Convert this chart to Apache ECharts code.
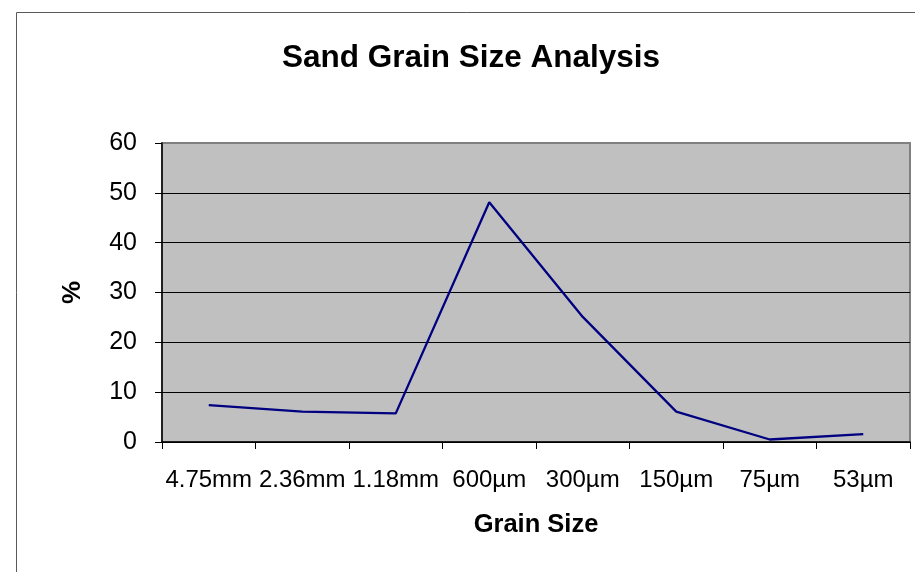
<!DOCTYPE html>
<html>
<head>
<meta charset="utf-8">
<script src="https://cdn.jsdelivr.net/npm/echarts@6/dist/echarts.min.js"></script>
<style>
  html, body { margin: 0; padding: 0; background: #fff; }
  #chart { width: 915px; height: 572px; }
</style>
</head>
<body>
<div id="chart"></div>
<script>
var grainSizes = ['4.75mm', '2.36mm', '1.18mm', '600µm', '300µm', '150µm', '75µm', '53µm'];
var percentValues = [7.4, 6.1, 5.75, 48.1, 25.1, 6.1, 0.5, 1.6];
var yTicks = [0, 10, 20, 30, 40, 50, 60];

var myChart = echarts.init(document.getElementById('chart'));
var font = 'Liberation Sans, Arial, sans-serif';

var option = {
    backgroundColor: '#fff',
    textStyle: { fontFamily: font },
    graphic: [{
        type: 'rect',
        shape: { x: 16.5, y: 12.5, width: 1000, height: 1000 },
        style: { fill: 'none', stroke: '#5a5a5a', lineWidth: 1 },
        z: -1
    }, {
        // chart title, centred over the plot like the original
        type: 'text',
        x: 471,
        y: 58,
        style: {
            text: 'Sand Grain Size Analysis',
            font: 'bold 31.5px ' + font,
            fill: '#000',
            align: 'center',
            verticalAlign: 'middle'
        }
    }],
    grid: {
        left: 162,
        right: 5,
        top: 143,
        bottom: 130,
        show: true,
        backgroundColor: '#c0c0c0',
        borderColor: '#808080',
        borderWidth: 2
    },
    xAxis: {
        type: 'category',
        data: grainSizes,
        boundaryGap: true,
        name: 'Grain Size',
        nameLocation: 'middle',
        nameGap: 70,
        nameTextStyle: { fontSize: 25.5, fontWeight: 'bold', color: '#000', fontFamily: font },
        axisLine: { lineStyle: { color: '#000', width: 1.5 } },
        axisTick: { show: true, alignWithLabel: false, length: 7, lineStyle: { color: '#000' } },
        axisLabel: { fontSize: 24, color: '#000', margin: 26, interval: 0 },
        splitLine: { show: false }
    },
    yAxis: {
        type: 'value',
        min: 0,
        max: 60,
        interval: 10,
        name: '%',
        nameLocation: 'middle',
        nameRotate: 90,
        nameGap: 76,
        nameTextStyle: { fontSize: 26, fontWeight: 'bold', color: '#000', fontFamily: font },
        axisLine: { show: true, lineStyle: { color: '#000', width: 1.5 } },
        axisTick: { show: true, length: 7, lineStyle: { color: '#000' } },
        axisLabel: {
            fontSize: 25,
            color: '#000',
            margin: 25,
            formatter: function(v) { return yTicks.indexOf(v) >= 0 ? String(v) : ''; }
        },
        splitLine: { show: true, showMaxLine: false, lineStyle: { color: '#000', width: 1 } }
    },
    series: [{
        name: '%',
        type: 'line',
        data: percentValues,
        symbol: 'none',
        lineStyle: { color: '#000080', width: 2.3 },
        animation: false
    }]
};

myChart.setOption(option);
</script>
</body>
</html>
